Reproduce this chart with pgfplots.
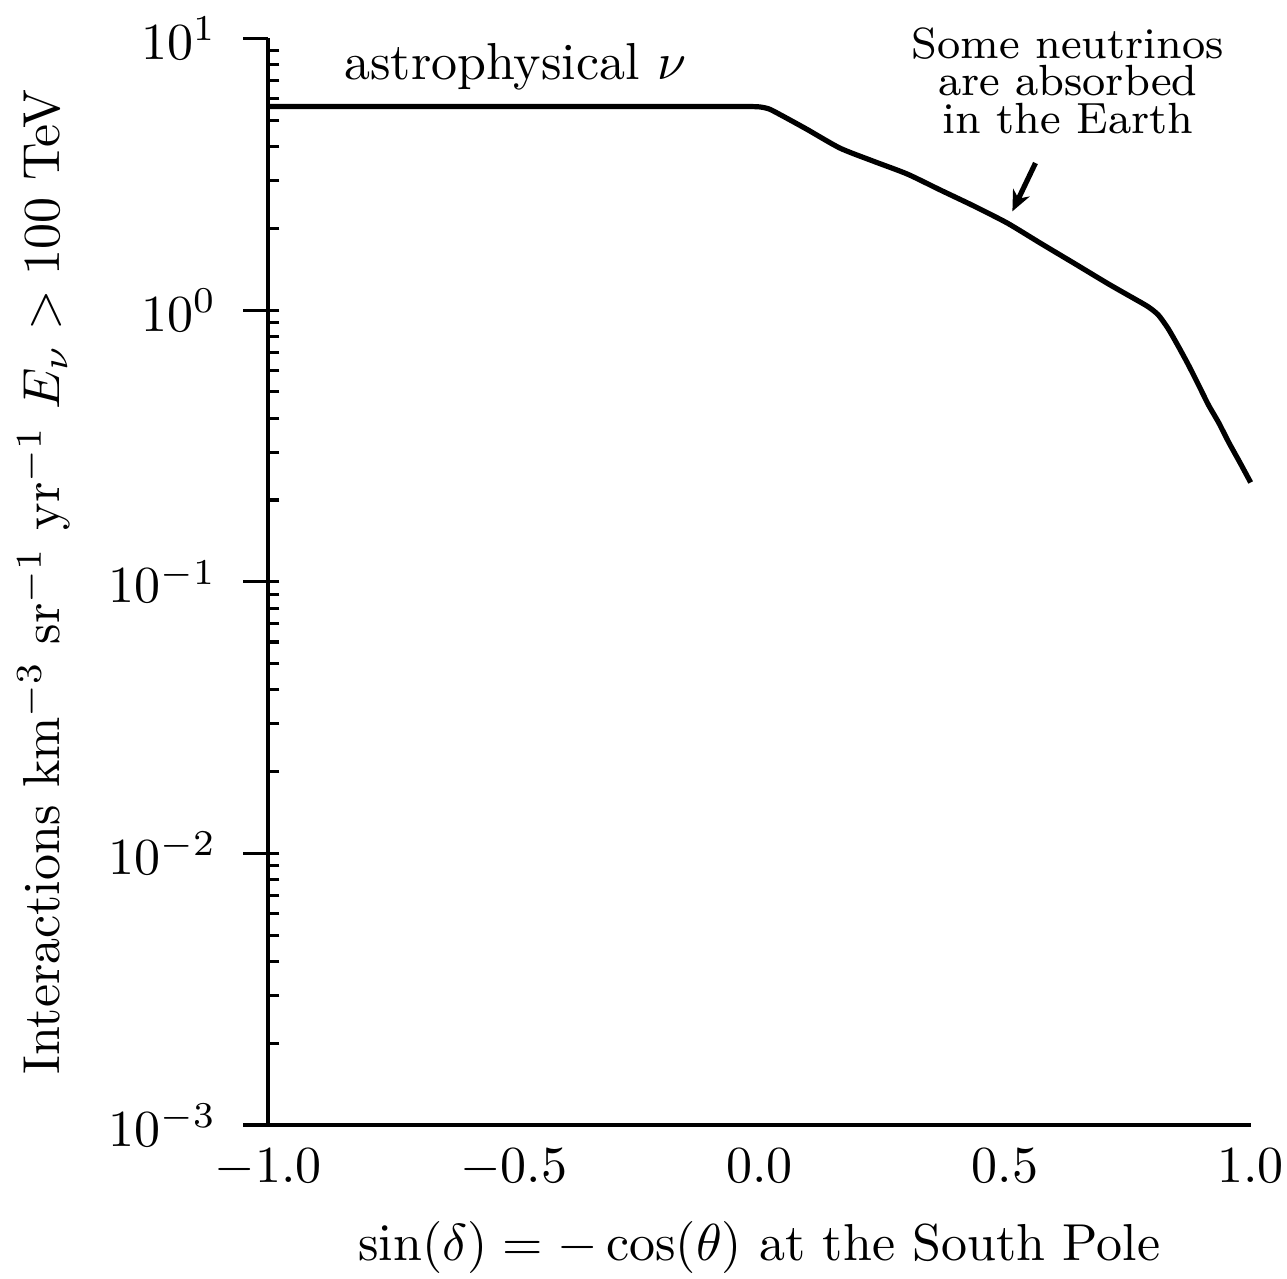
\documentclass[border=0pt]{standalone}
\usepackage{pgfplots}
\pgfplotsset{compat=1.18}
\usetikzlibrary{arrows.meta}
\begin{document}
\begin{tikzpicture}
\begin{axis}[
  scale only axis,
  width=189pt, height=209pt,
  xmin=-1, xmax=1,
  ymode=log, ymin=1e-3, ymax=10,
  axis x line=bottom, axis y line=left,
  axis line style={-, line width=0.6pt},
  xtick={-1,-0.5,0,0.5,1},
  xticklabel style={inner xsep=0.6pt, yshift=3.8pt, /pgf/number format/.cd, fixed, fixed zerofill, precision=1},
  yticklabel style={xshift=-1.6pt},
  x tick style={draw=none},
  tick align=outside,
  major tick length=4.8pt,
  minor tick length=-2.2pt,
  y tick style={line width=0.6pt, black},
  ytick={1e-3,1e-2,1e-1,1,10},
  xlabel={$\sin(\delta)=-\cos(\theta)$ at the South Pole},
  xlabel style={inner ysep=0.8pt, yshift=-2.5pt},
  ylabel={Interactions km$^{-3}$ sr$^{-1}$ yr$^{-1}$ $E_\nu > 100$ TeV},
  ylabel shift=0.5pt,
  clip=false,
]
\addplot[black, line width=1pt, smooth, tension=0.4] coordinates {
(-1.0,5.62) (-0.5,5.62) (-0.1,5.62) (-0.03,5.62) (0.0,5.6) (0.02,5.5) (0.047,5.19)
(0.096,4.64) (0.164,3.95) (0.231,3.54) (0.301,3.17) (0.368,2.77) (0.436,2.42)
(0.505,2.09) (0.573,1.76) (0.640,1.49) (0.710,1.25) (0.760,1.11) (0.791,1.03)
(0.812,0.96) (0.832,0.855) (0.852,0.74) (0.873,0.63) (0.894,0.53) (0.914,0.448) (0.935,0.385) (0.955,0.327) (0.978,0.275) (1.0,0.232)
};
\node[font=\normalsize] at (axis cs:-0.497,7.9) {astrophysical $\nu$};
\node[font={\fontsize{8.4}{7.2}\selectfont}, align=center] at (axis cs:0.628,7.0) {Some neutrinos\\are absorbed\\in the Earth};
\draw[-{Stealth[length=4pt,width=3.5pt]}, line width=1pt] (axis cs:0.562,3.48) -- (axis cs:0.515,2.31);
\end{axis}
\end{tikzpicture}
\end{document}
